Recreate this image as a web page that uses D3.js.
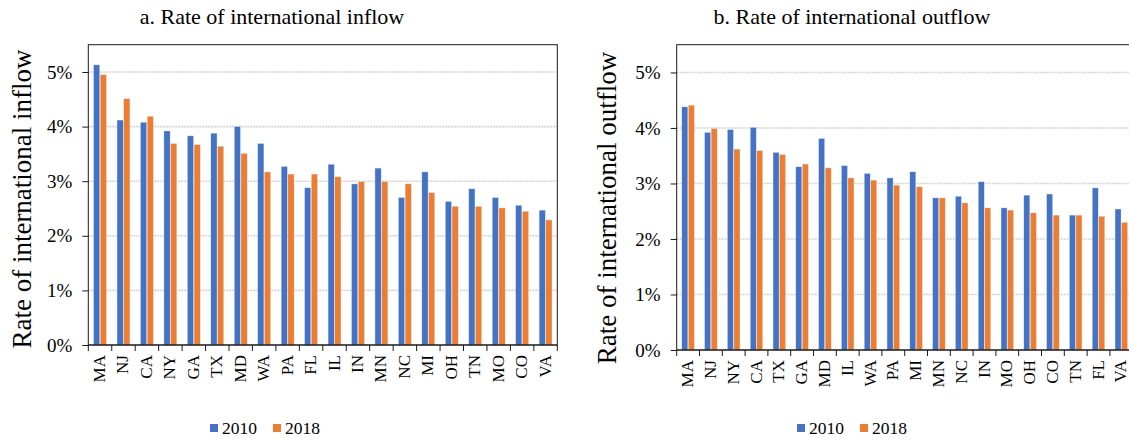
<!DOCTYPE html>
<html>
<head>
<meta charset="utf-8">
<script src="https://cdn.jsdelivr.net/npm/d3@7"></script>
<style>
  html, body { margin: 0; padding: 0; background: #fff; }
  svg { display: block; }
  svg text { font-family: "Liberation Serif", "Times New Roman", serif !important; fill: #000; }
</style>
</head>
<body>
<svg id="chart" width="1129" height="440"></svg>
<script>
// Panel a: international inflow rate by state (percent)
const inflowStates = ["MA","NJ","CA","NY","GA","TX","MD","WA","PA","FL","IL","IN","MN","NC","MI","OH","TN","MO","CO","VA"];
const inflow2010 = [5.13,4.12,4.08,3.92,3.83,3.88,4.00,3.69,3.27,2.88,3.31,2.95,3.24,2.70,3.17,2.63,2.86,2.70,2.56,2.47];
const inflow2018 = [4.95,4.51,4.19,3.69,3.67,3.64,3.51,3.17,3.13,3.13,3.08,2.99,2.99,2.95,2.79,2.54,2.54,2.51,2.45,2.29];

// Panel b: international outflow rate by state (percent)
const outflowStates = ["MA","NJ","NY","CA","TX","GA","MD","IL","WA","PA","MI","MN","NC","IN","MO","OH","CO","TN","FL","VA"];
const outflow2010 = [4.38,3.92,3.97,4.01,3.56,3.30,3.81,3.32,3.18,3.10,3.21,2.74,2.77,3.03,2.56,2.79,2.81,2.43,2.92,2.54];
const outflow2018 = [4.41,3.99,3.62,3.59,3.52,3.35,3.28,3.10,3.06,2.97,2.94,2.74,2.65,2.56,2.52,2.47,2.43,2.43,2.41,2.30];

const years = ["2010", "2018"];
const yTicks = [0, 1, 2, 3, 4, 5];
const colors = { "2010": "#4472C4", "2018": "#ED7D31" };
const SERIF = "'Liberation Serif', 'Times New Roman', serif";

const svg = d3.select("#chart");

function panel(cfg) {
  const { states, v2010, v2018, title, yTitle, x0, x1, y0, y1, titleX, yTitleX, yTitleY, legendX } = cfg;
  const g = svg.append("g").style("font-family", SERIF);

  const x = d3.scaleBand().domain(states).range([x0, x1]).padding(0);
  const y = d3.scaleLinear().domain([0, 5.5]).range([y1, y0]);
  const inner = d3.scaleBand().domain(years).range([x.bandwidth() * 0.225, x.bandwidth() * 0.775]).paddingInner(0.08);

  // gridlines
  g.append("g").selectAll("line").data(yTicks.filter(d => d > 0)).join("line")
    .attr("x1", x0).attr("x2", x1)
    .attr("y1", d => y(d)).attr("y2", d => y(d))
    .attr("stroke", "#d2d2d2").attr("stroke-width", 1.6).attr("stroke-dasharray", "2,1");

  // bars
  const rows = states.map((s, i) => ({ s, vals: [{ k: "2010", v: v2010[i] }, { k: "2018", v: v2018[i] }] }));
  g.append("g").selectAll("g").data(rows).join("g")
    .attr("transform", d => `translate(${x(d.s)},0)`)
    .selectAll("rect").data(d => d.vals).join("rect")
    .attr("x", d => inner(d.k))
    .attr("width", inner.bandwidth())
    .attr("y", d => y(d.v))
    .attr("height", d => y(0) - y(d.v))
    .attr("fill", d => colors[d.k])
    .attr("stroke", "#dfe6f3").attr("stroke-width", 0.4);

  // plot frame
  g.append("rect").attr("x", x0).attr("y", y0).attr("width", x1 - x0).attr("height", y1 - y0)
    .attr("fill", "none").attr("stroke", "#1a1a1a").attr("stroke-width", 1);

  // y axis
  const yAxis = g.append("g").attr("transform", `translate(${x0},0)`)
    .call(d3.axisLeft(y).tickValues(yTicks).tickFormat(d => d + "%").tickSize(6).tickPadding(10));
  yAxis.attr("font-family", null).attr("font-size", null);
  yAxis.select(".domain").remove();
  yAxis.selectAll(".tick line").attr("stroke", "#1a1a1a");
  yAxis.selectAll("text").style("font-family", SERIF).attr("font-size", 19).attr("fill", "#000");

  // x axis with ticks at category boundaries
  const xAxisG = g.append("g").attr("transform", `translate(0,${y1})`);
  xAxisG.append("line").attr("x1", x0).attr("x2", x1).attr("stroke", "#1a1a1a").attr("stroke-width", 1.2);
  xAxisG.selectAll("line.tk").data(states.concat(["_end"])).join("line").attr("class", "tk")
    .attr("x1", (d, i) => x0 + i * x.step()).attr("x2", (d, i) => x0 + i * x.step())
    .attr("y1", 0).attr("y2", 6).attr("stroke", "#1a1a1a");
  xAxisG.selectAll("text").data(states).join("text")
    .attr("transform", d => `translate(${x(d) + x.bandwidth() / 2 + 5},10) rotate(-90)`)
    .attr("text-anchor", "end")
    .style("font-family", SERIF)
    .attr("font-size", 17)
    .text(d => d);

  // panel title
  g.append("text").attr("x", titleX).attr("y", 24).attr("text-anchor", "middle")
    .style("font-family", SERIF).attr("font-size", 22).text(title);

  // y axis title
  g.append("text").attr("transform", `translate(${yTitleX},${yTitleY}) rotate(-90)`)
    .attr("text-anchor", "middle").style("font-family", SERIF).attr("font-size", 27).text(yTitle);

  // legend
  const lg = g.append("g").attr("transform", `translate(${legendX},428)`);
  years.forEach((yr, i) => {
    const off = i * 63;
    lg.append("rect").attr("x", off).attr("y", -4).attr("width", 8).attr("height", 8).attr("fill", colors[yr]);
    lg.append("text").attr("x", off + 12).attr("y", 6).style("font-family", SERIF)
      .attr("font-size", 17.5).text(yr);
  });
}

panel({
  states: inflowStates, v2010: inflow2010, v2018: inflow2018,
  title: "a. Rate of international inflow", yTitle: "Rate of international inflow",
  x0: 88.3, x1: 557.3, y0: 44.7, y1: 345,
  titleX: 272, yTitleX: 31, yTitleY: 199, legendX: 210
});

panel({
  states: outflowStates, v2010: outflow2010, v2018: outflow2018,
  title: "b. Rate of international outflow", yTitle: "Rate of international outflow",
  x0: 676.7, x1: 1132.7, y0: 44.7, y1: 350,
  titleX: 852, yTitleX: 616, yTitleY: 208, legendX: 797
});
</script>
</body>
</html>
